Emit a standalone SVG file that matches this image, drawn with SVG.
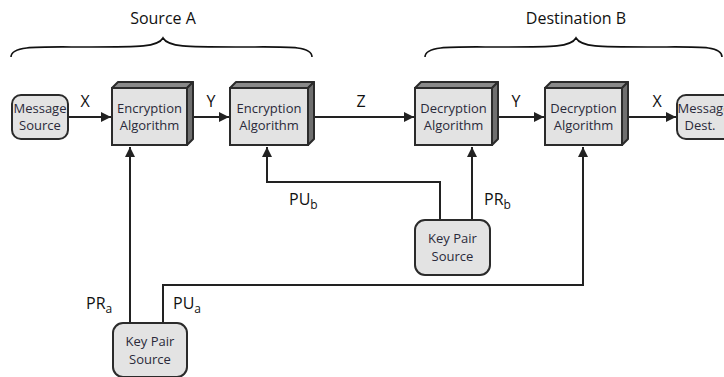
<svg xmlns="http://www.w3.org/2000/svg" width="724" height="377" viewBox="0 0 724 377">
  <defs>
    <marker id="arrow" viewBox="0 0 10 10" refX="10" refY="5" markerWidth="10" markerHeight="10" markerUnits="userSpaceOnUse" orient="auto">
      <path d="M0,0 L10,5 L0,10 z" fill="#222"/>
    </marker>
    <style>
      .front { fill: #e3e3e3; stroke: #2b2b2b; stroke-width: 2; }
      .top { fill: #8a8a8a; stroke: #2b2b2b; stroke-width: 2; stroke-linejoin: round; }
      .side { fill: #6f6f6f; stroke: #2b2b2b; stroke-width: 2; stroke-linejoin: round; }
      .rnd { fill: #e3e3e3; stroke: #2b2b2b; stroke-width: 2; }
      .lbl { font-family: "Open Sans", "Liberation Sans", sans-serif; font-size: 13px; fill: #2a2a3a; text-anchor: middle; }
      .big { font-family: "Open Sans", "Liberation Sans", sans-serif; font-size: 16px; fill: #111; }
      .wire { fill: none; stroke: #222; stroke-width: 2; }
      .brace { fill: none; stroke: #111; stroke-width: 1.6; }
    </style>
  </defs>

  <!-- braces and group titles -->
  <text class="big" x="163" y="24" text-anchor="middle">Source A</text>
  <path class="brace" d="M11,57 C11,45 40,47 90,47 C140,47 158,47 163,38 C168,47 186,47 236,47 C286,47 312,45 312,57"/>
  <text class="big" x="576" y="24" text-anchor="middle">Destination B</text>
  <path class="brace" d="M425,57 C425,45 454,47 504,47 C554,47 571,47 576,38 C581,47 598,47 648,47 C698,47 722,45 722,57"/>

  <!-- connectors -->
  <g id="connectors">
    <line class="wire" x1="68" y1="117" x2="111" y2="117" marker-end="url(#arrow)"/>
    <line class="wire" x1="187" y1="117" x2="229" y2="117" marker-end="url(#arrow)"/>
    <line class="wire" x1="308" y1="117" x2="414" y2="117" marker-end="url(#arrow)"/>
    <line class="wire" x1="492" y1="117" x2="544" y2="117" marker-end="url(#arrow)"/>
    <line class="wire" x1="622" y1="117" x2="676" y2="117" marker-end="url(#arrow)"/>
    <polyline class="wire" points="440,220 440,182 267,182 267,147" marker-end="url(#arrow)"/>
    <line class="wire" x1="472" y1="220" x2="472" y2="147" marker-end="url(#arrow)"/>
    <line class="wire" x1="130" y1="323" x2="130" y2="147" marker-end="url(#arrow)"/>
    <polyline class="wire" points="163,323 163,285 583,285 583,147" marker-end="url(#arrow)"/>
    <text class="big" x="85" y="107" text-anchor="middle">X</text>
    <text class="big" x="211" y="107" text-anchor="middle">Y</text>
    <text class="big" x="361" y="107" text-anchor="middle">Z</text>
    <text class="big" x="516" y="107" text-anchor="middle">Y</text>
    <text class="big" x="657" y="107" text-anchor="middle">X</text>
    <text class="big" x="289" y="205">PU<tspan font-size="12" dy="4">b</tspan></text>
    <text class="big" x="484" y="205">PR<tspan font-size="12" dy="4">b</tspan></text>
    <text class="big" x="86" y="309">PR<tspan font-size="12" dy="4">a</tspan></text>
    <text class="big" x="173" y="309">PU<tspan font-size="12" dy="4">a</tspan></text>
  </g>

  <!-- nodes -->
  <g id="msg-source">
    <rect class="rnd" x="12" y="95" width="56" height="44" rx="9"/>
    <text class="lbl" x="40" y="113">Message</text>
    <text class="lbl" x="40" y="130">Source</text>
  </g>

  <g id="enc1">
    <polygon class="top" points="112,88 118,82 193,82 187,88"/>
    <polygon class="side" points="187,88 193,82 193,139 187,145"/>
    <rect class="front" x="112" y="88" width="75" height="57"/>
    <text class="lbl" x="149.5" y="113">Encryption</text>
    <text class="lbl" x="149.5" y="130">Algorithm</text>
  </g>

  <g id="enc2">
    <polygon class="top" points="230,88 236,82 314,82 308,88"/>
    <polygon class="side" points="308,88 314,82 314,139 308,145"/>
    <rect class="front" x="230" y="88" width="78" height="57"/>
    <text class="lbl" x="269" y="113">Encryption</text>
    <text class="lbl" x="269" y="130">Algorithm</text>
  </g>

  <g id="dec1">
    <polygon class="top" points="415,88 421,82 498,82 492,88"/>
    <polygon class="side" points="492,88 498,82 498,139 492,145"/>
    <rect class="front" x="415" y="88" width="77" height="57"/>
    <text class="lbl" x="453.5" y="113">Decryption</text>
    <text class="lbl" x="453.5" y="130">Algorithm</text>
  </g>

  <g id="dec2">
    <polygon class="top" points="545,88 551,82 628,82 622,88"/>
    <polygon class="side" points="622,88 628,82 628,139 622,145"/>
    <rect class="front" x="545" y="88" width="77" height="57"/>
    <text class="lbl" x="583.5" y="113">Decryption</text>
    <text class="lbl" x="583.5" y="130">Algorithm</text>
  </g>

  <g id="msg-dest">
    <rect class="rnd" x="677" y="95" width="60" height="44" rx="9"/>
    <text class="lbl" x="704" y="113">Message</text>
    <text class="lbl" x="700" y="130">Dest.</text>
  </g>

  <g id="keypair-b">
    <rect class="rnd" x="415" y="220" width="75" height="55" rx="10"/>
    <text class="lbl" x="452.5" y="243">Key Pair</text>
    <text class="lbl" x="452.5" y="261">Source</text>
  </g>

  <g id="keypair-a">
    <rect class="rnd" x="113" y="323" width="74" height="54" rx="10"/>
    <text class="lbl" x="150" y="346">Key Pair</text>
    <text class="lbl" x="150" y="364">Source</text>
  </g>
</svg>
